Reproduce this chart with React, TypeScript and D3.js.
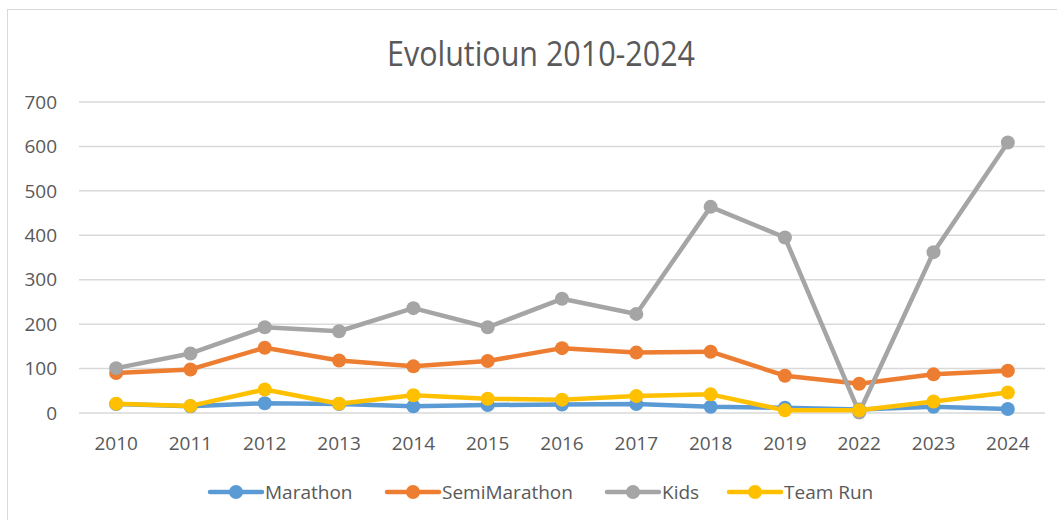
import React, { useEffect, useRef } from 'react';
import * as d3 from 'd3';

const years = ['2010', '2011', '2012', '2013', '2014', '2015', '2016', '2017', '2018', '2019', '2022', '2023', '2024'];
const marathon = [20, 15, 22, 20, 15, 18, 19, 20, 14, 12, 8, 14, 9];
const semiMarathon = [90, 98, 147, 118, 105, 117, 146, 136, 138, 84, 66, 87, 95];
const kids = [101, 134, 193, 184, 236, 193, 257, 223, 464, 395, 1, 362, 609];
const teamRun = [21, 16, 53, 21, 40, 32, 30, 38, 42, 6, 6, 26, 46];
const yTicks = [0, 100, 200, 300, 400, 500, 600, 700];

const seriesNames = ['Marathon', 'SemiMarathon', 'Kids', 'Team Run'];
const seriesColors = ['#5B9BD5', '#ED7D31', '#A5A5A5', '#FFC000'];

export default function App() {
  const svgRef = useRef<SVGSVGElement>(null);

  useEffect(() => {
    const svg = d3.select(svgRef.current);
    svg.selectAll('*').remove();

    const width = 1057;
    const height = 520;
    const margin = { top: 102, right: 12, bottom: 107, left: 79 };
    const font = '"Open Sans", sans-serif';
    const textColor = '#595959';

    // chart frame
    svg.append('rect')
      .attr('x', 7.5).attr('y', 9.5)
      .attr('width', width + 20).attr('height', height + 20)
      .attr('fill', 'white').attr('stroke', '#D9D9D9');

    svg.append('text')
      .attr('x', 387).attr('y', 66)
      .attr('font-family', font).attr('font-size', 34)
      .attr('textLength', 308)
      .attr('lengthAdjust', 'spacingAndGlyphs')
      .attr('fill', textColor)
      .text('Evolutioun 2010-2024');

    const x = d3.scaleBand()
      .domain(years)
      .range([margin.left, width - margin.right]);

    const y = d3.scaleLinear()
      .domain([0, 700])
      .range([height - margin.bottom, margin.top]);

    // gridlines
    svg.append('g')
      .selectAll('line')
      .data(yTicks)
      .join('line')
      .attr('x1', margin.left).attr('x2', width - margin.right)
      .attr('y1', d => y(d)).attr('y2', d => y(d))
      .attr('stroke', '#D9D9D9').attr('stroke-width', 1.5);

    // y labels
    svg.append('g')
      .selectAll('text')
      .data(yTicks)
      .join('text')
      .attr('x', 57).attr('y', d => y(d))
      .attr('dy', '0.35em')
      .attr('text-anchor', 'end')
      .attr('font-family', font).attr('font-size', 19)
      .attr('fill', textColor)
      .text(d => d);

    // x labels
    svg.append('g')
      .selectAll('text')
      .data(years)
      .join('text')
      .attr('x', d => x(d)! + x.bandwidth() / 2)
      .attr('y', 450)
      .attr('text-anchor', 'middle')
      .attr('font-family', font).attr('font-size', 19)
      .attr('fill', textColor)
      .text(d => d);

    const allSeries = [marathon, semiMarathon, kids, teamRun];
    const line = d3.line<number>()
      .x((_, i) => x(years[i])! + x.bandwidth() / 2)
      .y(d => y(d));

    allSeries.forEach((data, s) => {
      const g = svg.append('g');
      g.append('path')
        .datum(data)
        .attr('d', line)
        .attr('fill', 'none')
        .attr('stroke', seriesColors[s])
        .attr('stroke-width', 4.5)
        .attr('stroke-linejoin', 'round')
        .attr('stroke-linecap', 'round');
      g.selectAll('circle')
        .data(data)
        .join('circle')
        .attr('cx', (_, i) => x(years[i])! + x.bandwidth() / 2)
        .attr('cy', d => y(d))
        .attr('r', 7)
        .attr('fill', seriesColors[s]);
    });

    // legend
    const legendX = [210, 387, 607, 729];
    const legend = svg.append('g');
    seriesNames.forEach((name, i) => {
      const lg = legend.append('g').attr('transform', `translate(${legendX[i]},492)`);
      lg.append('line')
        .attr('x1', 0).attr('x2', 52)
        .attr('stroke', seriesColors[i]).attr('stroke-width', 4.5)
        .attr('stroke-linecap', 'round');
      lg.append('circle').attr('cx', 26).attr('r', 7).attr('fill', seriesColors[i]);
      lg.append('text')
        .attr('x', 55).attr('dy', '0.35em')
        .attr('font-family', font).attr('font-size', 19)
        .attr('fill', textColor)
        .text(name);
    });
  }, []);

  return (
    <svg
      ref={svgRef}
      width={1057}
      height={520}
      style={{ position: 'absolute', left: 0, top: 0, background: 'white' }}
    />
  );
}
